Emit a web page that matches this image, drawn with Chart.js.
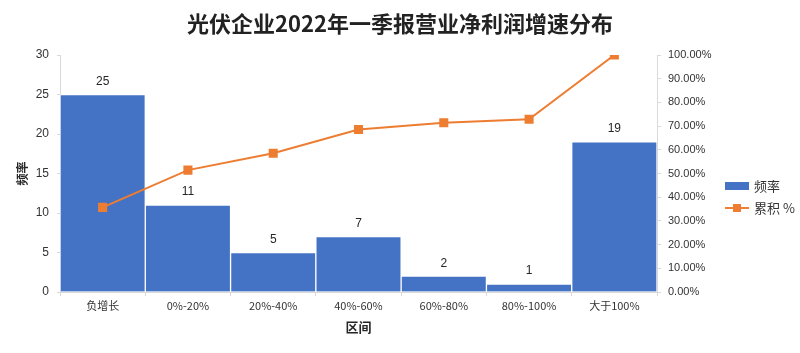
<!DOCTYPE html>
<html>
<head>
<meta charset="utf-8">
<script src="https://cdn.jsdelivr.net/npm/chart.js@4/dist/chart.umd.min.js"></script>
<style>
    html, body { margin: 0; padding: 0; background: #fff; }
    #wrap { width: 800px; height: 353px; }
</style>
</head>
<body>
<div id="wrap"><canvas id="chart-pareto"></canvas></div>
<script>
// 데이터
const rangeLabels = ["负增长", "0%-20%", "20%-40%", "40%-60%", "60%-80%", "80%-100%", "大于100%"];
const freqData = [25, 11, 5, 7, 2, 1, 19];
const cumulData = [35.71, 51.43, 58.57, 68.57, 71.43, 72.86, 100];
const leftTicks = [0, 5, 10, 15, 20, 25, 30];
const rightTicks = [0, 10, 20, 30, 40, 50, 60, 70, 80, 90, 100];

const FONT = "'Liberation Sans', 'Noto Sans CJK SC', sans-serif";
const CJK = "'Noto Sans CJK SC', 'Liberation Sans', sans-serif";
const AXIS_COLOR = '#d9d9d9';
const TEXT_COLOR = '#333333';

// 막대 위 값 표시
const barValuePlugin = {
    id: 'barValue',
    afterDatasetsDraw(chart) {
        const ctx = chart.ctx;
        const meta = chart.getDatasetMeta(0);
        ctx.save();
        ctx.font = "12px " + FONT;
        ctx.fillStyle = '#262626';
        ctx.textAlign = 'center';
        ctx.textBaseline = 'middle';
        meta.data.forEach((bar, i) => {
            ctx.fillText(freqData[i], bar.x, bar.y - 13);
        });
        ctx.restore();
    }
};

// 오른쪽 범례
const sideLegendPlugin = {
    id: 'sideLegend',
    afterDraw(chart) {
        const ctx = chart.ctx;
        const ds = chart.data.datasets;
        const x = 725;
        ctx.save();
        ctx.font = "13px " + CJK;
        ctx.textBaseline = 'middle';

        ctx.fillStyle = ds[0].backgroundColor;
        ctx.fillRect(x, 182, 24, 8);
        ctx.fillStyle = TEXT_COLOR;
        ctx.fillText(ds[0].label, x + 29, 186);

        ctx.strokeStyle = ds[1].borderColor;
        ctx.lineWidth = 2;
        ctx.beginPath();
        ctx.moveTo(x, 208);
        ctx.lineTo(x + 24, 208);
        ctx.stroke();
        ctx.fillStyle = ds[1].borderColor;
        ctx.fillRect(x + 8, 204, 8, 8);
        ctx.fillStyle = TEXT_COLOR;
        ctx.fillText(ds[1].label, x + 29, 208);
        ctx.restore();
    }
};

const config_pareto = {
    type: 'bar',
    data: {
        labels: rangeLabels,
        datasets: [
            {
                type: 'bar',
                label: '频率',
                data: freqData,
                backgroundColor: '#4472C4',
                borderColor: '#ffffff',
                borderWidth: 1,
                barPercentage: 1,
                categoryPercentage: 1,
                yAxisID: 'y',
                order: 2
            },
            {
                type: 'line',
                label: '累积 %',
                data: cumulData,
                borderColor: '#ED7D31',
                backgroundColor: '#ED7D31',
                borderWidth: 2,
                pointStyle: 'rect',
                pointRadius: 5,
                pointHoverRadius: 5,
                tension: 0,
                yAxisID: 'y1',
                order: 1
            }
        ]
    },
    plugins: [barValuePlugin, sideLegendPlugin],
    options: {
        responsive: true,
        maintainAspectRatio: false,
        animation: false,
        layout: { padding: 0 },
        scales: {
            x: {
                offset: true,
                grid: { display: true, drawOnChartArea: false, drawTicks: true, tickLength: 4, offset: true, color: AXIS_COLOR },
                border: { display: true, color: AXIS_COLOR },
                ticks: { padding: 3, color: TEXT_COLOR, font: { family: CJK, size: 11 }, maxRotation: 0 },
                title: { display: true, text: '区间', color: '#262626', font: { family: CJK, size: 13, weight: 'bold' }, padding: { top: 0, bottom: 18 } },
                afterFit: axis => { axis.height = 61; }
            },
            y: {
                position: 'left',
                min: 0,
                max: 30,
                afterBuildTicks: axis => { axis.ticks = leftTicks.map(v => ({ value: v })); },
                grid: { display: true, drawOnChartArea: false, drawTicks: true, tickLength: 3, color: AXIS_COLOR },
                border: { display: true, color: AXIS_COLOR },
                ticks: { padding: 8, color: TEXT_COLOR, font: { family: FONT, size: 12 } },
                title: { display: true, text: '频率', color: '#262626', font: { family: CJK, size: 12, weight: 'bold' }, padding: { top: 15, bottom: 0 } },
                afterFit: axis => { axis.width = 60; }
            },
            y1: {
                position: 'right',
                min: 0,
                max: 100,
                afterBuildTicks: axis => { axis.ticks = rightTicks.map(v => ({ value: v })); },
                grid: { display: true, drawOnChartArea: false, drawTicks: true, tickLength: 4, color: AXIS_COLOR },
                border: { display: true, color: AXIS_COLOR },
                ticks: {
                    padding: 7,
                    color: TEXT_COLOR,
                    font: { family: FONT, size: 11 },
                    callback: value => value.toFixed(2) + '%'
                },
                afterFit: axis => { axis.width = 143; }
            }
        },
        plugins: {
            legend: { display: false },
            tooltip: { enabled: false },
            title: {
                display: true,
                text: '光伏企业2022年一季报营业净利润增速分布',
                color: '#222222',
                font: { family: CJK, size: 22, weight: 'bold', lineHeight: 1.2 },
                padding: { top: 10, bottom: 18.6 }
            }
        }
    }
};

const paretoChart = new Chart(document.getElementById('chart-pareto'), config_pareto);
</script>
</body>
</html>
